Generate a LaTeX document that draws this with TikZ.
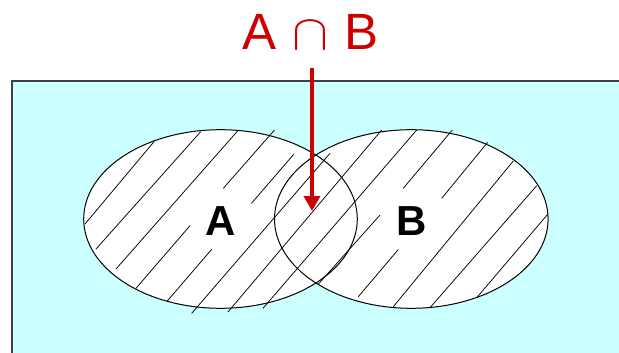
\documentclass[tikz,border=0pt]{standalone}
\usepackage{fontspec}
\setmainfont{Liberation Sans}
\usetikzlibrary{arrows.meta}
\definecolor{bgcyan}{HTML}{CCFFFF}
\definecolor{redtxt}{HTML}{CC0000}
\definecolor{frame}{HTML}{404040}
\tikzset{
  setellipse/.style={line width=1pt, draw=black},
  hatch/.style={line width=0.75pt, black},
  setlabel/.style={font=\bfseries\fontsize{42}{42}\selectfont, inner sep=0pt},
  redlabel/.style={text=redtxt, font=\fontsize{51}{51}\selectfont, inner sep=0pt, anchor=base},
  redarrow/.style={draw=redtxt, line width=3.5pt, -{Triangle[width=16pt,length=15pt]}}
}
\newcommand{\bigcapsym}{{\normalsize\scalebox{5.4}[5.0]{$\cap$}}}
\begin{document}
\begin{tikzpicture}[x=1pt,y=-1pt]
\clip (0,0) rectangle (619,353);
% universe
\fill[bgcyan] (12,81) rectangle (640,370);
\draw[frame, line width=1.2pt] (640,81) -- (12,81) -- (12,370);
% sets (white fill)
\fill[white] (220.5,219) ellipse [x radius=136.8, y radius=89.3];
\fill[white] (411.3,219) ellipse [x radius=136.8, y radius=89.3];
% hatching
\draw[hatch] (85,224) -- (154,141.7);
\draw[hatch] (96,249) -- (200.7,131.7);
\draw[hatch] (116,269) -- (238,130.5);
\draw[hatch] (136,288.3) -- (190,225.7);
\draw[hatch] (223.3,188.3) -- (274.5,130);
\draw[hatch] (167.3,301) -- (211.7,249.3);
\draw[hatch] (251.5,203.3) -- (294,154);
\draw[hatch] (191.7,313.3) -- (330,153.3);
\draw[hatch] (228,312) -- (381.7,130);
\draw[hatch] (263,308.3) -- (416.7,130);
\draw[hatch] (318,284.5) -- (380,215);
\draw[hatch] (403.3,188.3) -- (452.3,130);
\draw[hatch] (358.3,296.7) -- (398.3,249.5);
\draw[hatch] (441.7,198.3) -- (487.7,142.3);
\draw[hatch] (393.3,306.7) -- (513.3,161);
\draw[hatch] (430,307.7) -- (536.7,185.7);
\draw[hatch] (476.7,297.7) -- (547.7,214.3);
% outlines
\draw[setellipse] (220.5,219) ellipse [x radius=136.8, y radius=89.3];
\draw[setellipse] (411.3,219) ellipse [x radius=136.8, y radius=89.3];
% labels
\node[setlabel] (a) at (220.5,221.5) {A};
\node[setlabel] (b) at (411.7,221.5) {B};
\node[redlabel] (t) at (310.5,50) {A\makebox[67pt]{\bigcapsym}B};
\coordinate (tip) at (312,211);
\draw[redarrow, shorten <=18pt] (t.base -| tip) -- (tip);
\end{tikzpicture}
\end{document}
